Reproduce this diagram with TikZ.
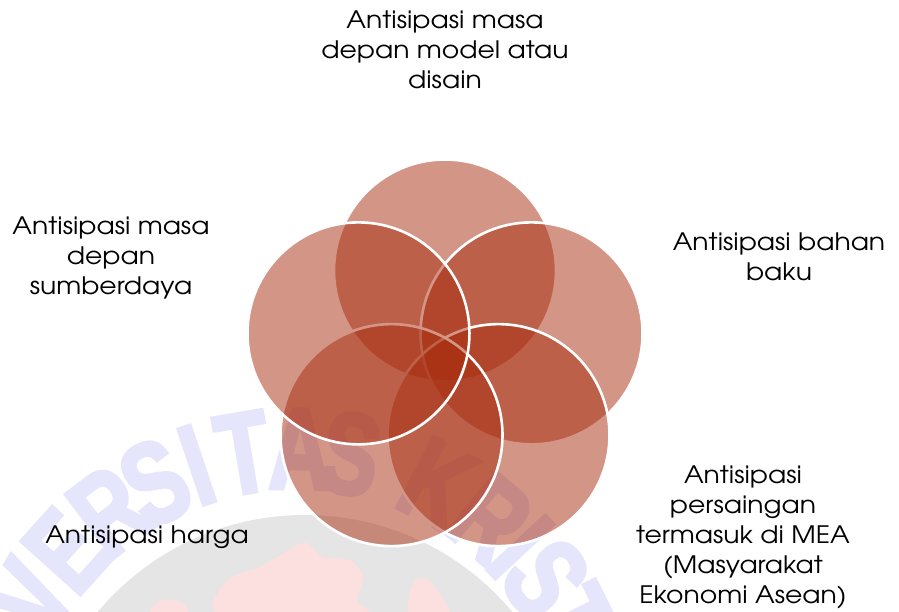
\documentclass[tikz,border=0pt]{standalone}
\usepackage{fontspec}
\setmainfont{texgyreadventor-regular.otf}[BoldFont=texgyreadventor-bold.otf, FakeStretch=1.11]
\newfontfamily\wmfont{Liberation Sans}[FakeStretch=0.74, FakeBold=3]
\definecolor{vred}{RGB}{169,45,15}
\definecolor{wmblue}{RGB}{229,229,251}
\definecolor{wmgray}{RGB}{229,229,229}
\definecolor{wmpink}{RGB}{252,224,224}
\tikzset{
  venn/.style={circle, minimum size=222pt, inner sep=0pt, fill=vred, fill opacity=0.5, draw=white, line width=2.6pt},
  lbl/.style={align=center, font=\fontsize{24}{30}\selectfont, inner sep=0pt, text=black},
  wm/.style={font=\wmfont\bfseries\fontsize{116}{116}\selectfont, text=wmblue, inner sep=0pt, anchor=center}
}
\begin{document}
\begin{tikzpicture}[x=1pt,y=1pt]
\useasboundingbox (0,0) rectangle (899,611);
\clip (0,0) rectangle (899,611);
\fill[white] (0,0) rectangle (899,611);
% watermark
\coordinate (wmc) at (295,-146);
\fill[wmgray] (305,-174) circle (270);
\fill[wmpink] plot[smooth cycle] coordinates {(220,-5) (227,31) (260,44) (293,64) (307,68) (323,54) (350,51) (363,34) (357,11) (362,-5)};
\fill[wmpink] plot[smooth cycle] coordinates {(410,-5) (413,28) (430,30) (450,-5)};
\fill[wmpink] plot[smooth cycle] coordinates {(150,-5) (160,11) (183,8) (186,-5)};
\foreach \l/\a [count=\i] in {V/149,E/138,R/127,S/117,I/108.6,T/99.6,A/89.1,S/79.6,K/62.4,R/50.6,I/43,S/35.5,T/26.5}
  \node[wm, rotate=\a-90] (wm\i) at ([shift={(\a:308)}]wmc) {\l};
% venn circles
\coordinate (ctr) at (445,249.5);
\node[venn] (c1) at ([shift={(90:91)}]ctr) {};
\node[venn] (c2) at ([shift={(18:91)}]ctr) {};
\node[venn] (c3) at ([shift={(-54:91)}]ctr) {};
\node[venn] (c4) at ([shift={(-126:91)}]ctr) {};
\node[venn] (c5) at ([shift={(162:91)}]ctr) {};
% labels
\node[lbl] (t1) at (445,561) {Antisipasi masa\\depan model atau\\disain};
\node[lbl] (t2) at (779,354.5) {Antisipasi bahan\\baku};
\node[lbl] (t3) at (743,73.5) {Antisipasi\\persaingan\\termasuk di MEA\\(Masyarakat\\Ekonomi Asean)};
\node[lbl] (t4) at (147,74) {Antisipasi harga};
\node[lbl] (t5) at (111,353.5) {Antisipasi masa\\depan\\sumberdaya};
\end{tikzpicture}
\end{document}
